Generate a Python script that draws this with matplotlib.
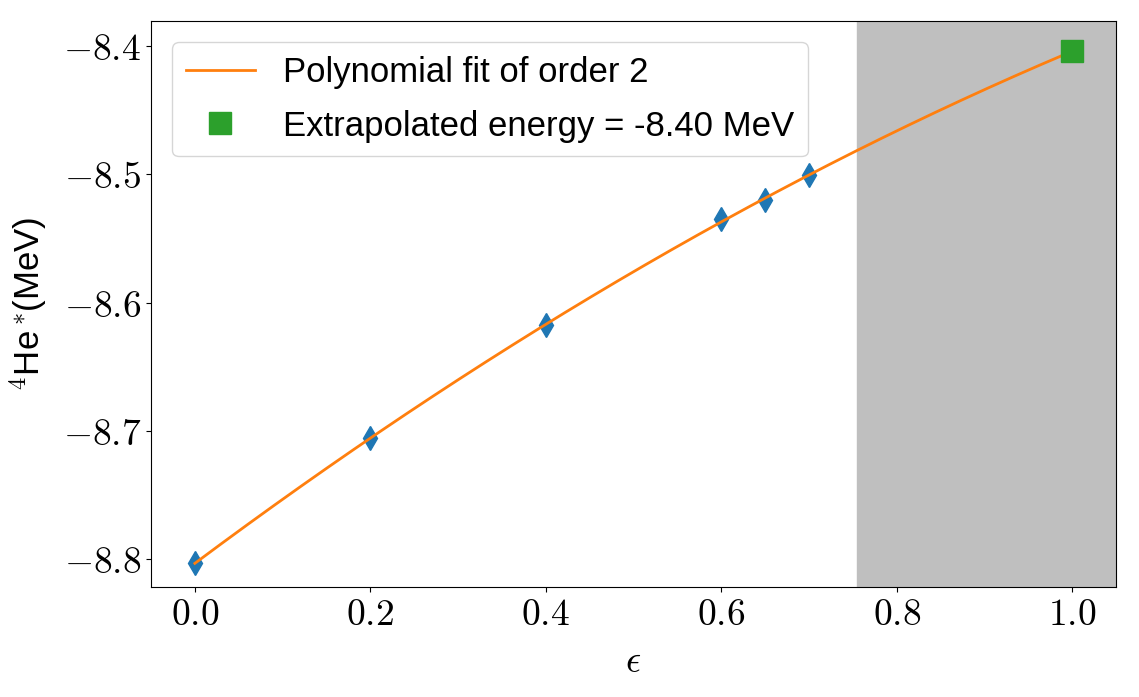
import numpy as np
import matplotlib
matplotlib.use("Agg")
import matplotlib.pyplot as plt

plt.rcParams['mathtext.fontset'] = 'cm'
plt.rcParams['font.family'] = ['Liberation Sans', 'DejaVu Sans']

eps = [0.0, 0.2, 0.4, 0.6, 0.65, 0.7]
energy = [-8.8030, -8.7055, -8.6175, -8.5350, -8.5200, -8.5005]
eps_extrap = 1.0
energy_extrap = -8.4040
shade_start = 0.755

fig = plt.figure(figsize=(11.39, 6.97), dpi=100)
ax = fig.add_axes([151/1139, 1 - 587/697, (1116-151)/1139, (587-21)/697])

coef = np.polyfit(eps, energy, 2)
xf = np.linspace(0.0, eps_extrap, 200)
ax.axvspan(shade_start, 1.05, color='#bfbfbf', zorder=0)
ax.plot(eps, energy, 'd', color='#1f77b4', markersize=12, zorder=2)
ax.plot(xf, np.polyval(coef, xf), '-', color='#ff7f0e', lw=2, zorder=3,
        label='Polynomial fit of order 2')
ax.plot([eps_extrap], [energy_extrap], 's', color='#2ca02c', markersize=15.5, zorder=4,
        label='Extrapolated energy = -8.40 MeV', linestyle='none')

ax.set_xlim(-0.05, 1.05)
ax.set_ylim(-8.8215, -8.3805)
ax.set_xticks([0.0, 0.2, 0.4, 0.6, 0.8, 1.0])
ax.set_xticklabels([f'${v:.1f}$' for v in [0.0, 0.2, 0.4, 0.6, 0.8, 1.0]])
ax.set_yticks([-8.8, -8.7, -8.6, -8.5, -8.4])
ax.set_yticklabels([f'${v:.1f}$' for v in [-8.8, -8.7, -8.6, -8.5, -8.4]])
ax.tick_params(labelsize=27)
ax.set_xlabel(r'$\epsilon$', fontsize=27, labelpad=8)
ax.set_ylabel(r'$^4$He$^*\!$(MeV)', fontsize=25, labelpad=10)
ax.legend(loc='upper left', fontsize=25, numpoints=1, borderaxespad=0.6,
          labelspacing=0.6)

fig.savefig('out.png', dpi=100)
